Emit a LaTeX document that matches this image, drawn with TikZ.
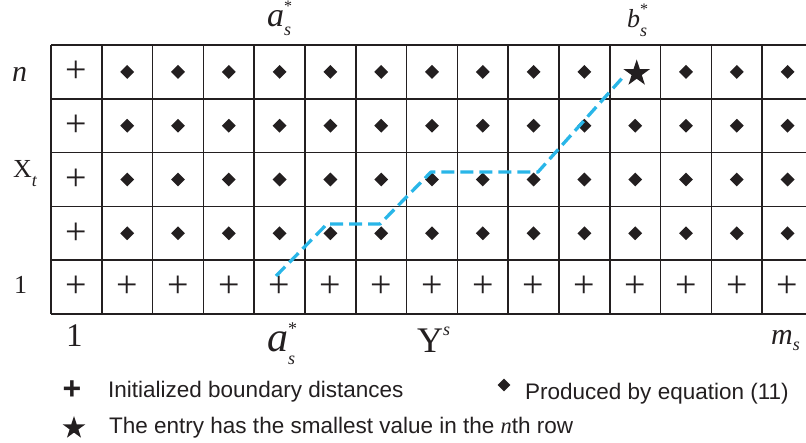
\documentclass[tikz,border=0pt]{standalone}
\usepackage{fontspec}
\usepackage{amsmath}
\setmainfont{Liberation Serif}
\setsansfont{Liberation Sans}
\usetikzlibrary{shapes.geometric}
\definecolor{pathblue}{RGB}{41,182,232}
\definecolor{gridc}{RGB}{35,31,32}
\newcommand{\fs}[1]{\fontsize{#1}{#1}\selectfont}
\begin{document}
\begin{tikzpicture}[x=1pt,y=-1pt,
  gridline/.style={draw=gridc,line width=1.5pt},
  plusmark/.style={inner sep=0pt,font=\fs{38},text=gridc},
  diamark/.style={diamond,fill=gridc,inner sep=0pt,minimum width=14pt,minimum height=14pt},
  starmark/.style={star,star points=5,star point ratio=2.618,fill=gridc,inner sep=0pt,minimum size=28pt},
  pathline/.style={draw=pathblue,line width=3.3pt,dash pattern=on 13pt off 6pt,line join=round},
  lbl/.style={anchor=base west,inner sep=0pt,text=gridc},
  legtext/.style={anchor=base west,inner sep=0pt,font=\sffamily\fs{22.5},text=gridc}]
\useasboundingbox (0,0) rectangle (806,443);
\begin{scope}
\clip (0,0) rectangle (806,443);
% grid
\foreach \i in {0,...,15} \draw[gridline] ({51+\i*50.8},45) -- ({51+\i*50.8},314);
\foreach \j in {0,...,5} \draw[gridline] (51,{45+\j*53.8}) -- (820,{45+\j*53.8});
% cell markers
\foreach \r in {1,...,5}{
  \foreach \c in {0,...,14}{
    \ifnum\r=5
      \node[plusmark] (cell-\r-\c) at ({51+(\c+0.5)*50.8},{45+(\r-0.5)*53.8}) {+};
    \else\ifnum\c=0
      \node[plusmark] (cell-\r-\c) at ({51+(\c+0.5)*50.8},{45+(\r-0.5)*53.8}) {+};
    \else\ifnum\r=1 \ifnum\c=11
      \node[starmark] (cell-\r-\c) at ({51+(\c+0.5)*50.8+1.5},{45+(\r-0.5)*53.8+1.5}) {};
    \else
      \node[diamark] (cell-\r-\c) at ({51+(\c+0.5)*50.8},{45+(\r-0.5)*53.8}) {};
    \fi\else
      \node[diamark] (cell-\r-\c) at ({51+(\c+0.5)*50.8},{45+(\r-0.5)*53.8}) {};
    \fi\fi\fi
  }
}
\end{scope}
% warping path
\coordinate (p0) at (276,276);
\coordinate (p1) at (327,224);
\coordinate (p2) at (380,224);
\coordinate (p3) at (431,172);
\coordinate (p4) at (538,172);
\coordinate (p5) at (624,76);
\draw[pathline] (p0) -- (p1) -- (p2) -- (p3) -- (p4) -- (p5);
% top labels
\node[lbl] (atop) at (267,27) {\fs{34}\textit{a}\rlap{\raisebox{-9pt}{\fs{18}\textit{s}}}\raisebox{15pt}{\fs{16}*}};
\node[lbl] (btop) at (627,28) {\fs{26}\textit{b}\rlap{\raisebox{-9pt}{\fs{18}\textit{s}}}\raisebox{13pt}{\fs{16}*}};
% left labels
\node[lbl] (ln) at (12,82) {\fs{30}\textit{n}};
\node[lbl] (lx) at (13,178) {\fs{26}X\raisebox{-9pt}{\fs{18}\textit{t}}};
\node[lbl] (l1) at (14,294) {\fs{26}1};
% bottom labels
\node[lbl] (b1) at (66,347) {\fs{33}1};
\node[lbl] (abot) at (267,352) {\fs{42}\textit{a}\rlap{\raisebox{-13pt}{\fs{18}\textit{s}}}\raisebox{17pt}{\fs{18}*}};
\node[lbl] (ys) at (417,353) {\fs{36}Y\raisebox{17pt}{\fs{18}\textit{s}}};
\node[lbl] (ms) at (771,345) {\fs{30}\textit{m}\raisebox{-6pt}{\fs{18}\textit{s}}};
% legend
\node[inner sep=0pt,font=\sffamily\bfseries\fs{32},text=gridc] (legplus) at (72,390) {+};
\node[legtext] (legplustext) at (108,398) {Initialized boundary distances};
\node[diamark,minimum width=13pt,minimum height=13pt] (legdia) at (504,385) {};
\node[legtext] (legdiatext) at (525,400) {Produced by equation (11)};
\node[starmark,minimum size=24pt] (legstar) at (74,428) {};
\node[legtext] (legstartext) at (109,433) {The entry has the smallest value in the {\rmfamily\itshape n}th row};
\end{tikzpicture}
\end{document}
